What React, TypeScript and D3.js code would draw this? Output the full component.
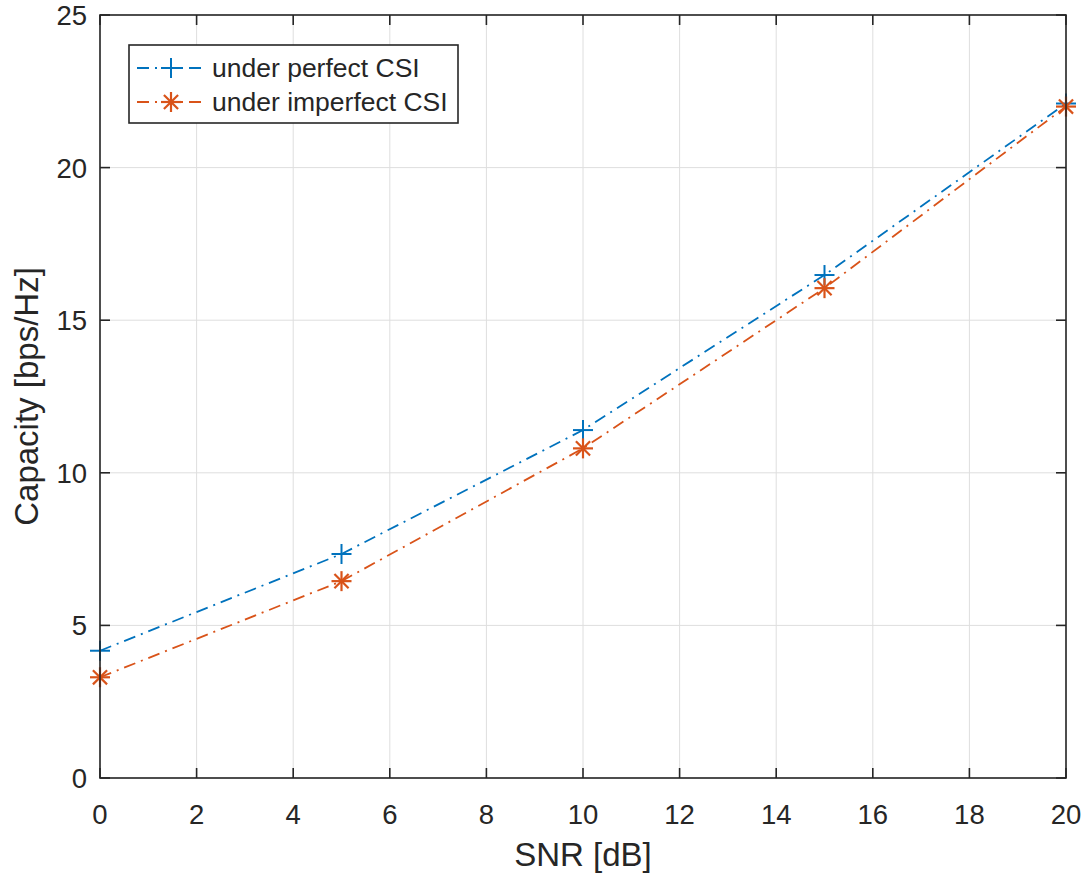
import React from "react";
import * as d3 from "d3";

const snr = [0, 5, 10, 15, 20];
const perfectCSI = [4.17, 7.34, 11.4, 16.48, 22.1];
const imperfectCSI = [3.3, 6.45, 10.8, 16.05, 22.0];
const xTicks = [0, 2, 4, 6, 8, 10, 12, 14, 16, 18, 20];
const yTicks = [0, 5, 10, 15, 20, 25];
const seriesNames = ["under perfect CSI", "under imperfect CSI"];
const colors = ["#0072BD", "#D95319"];

const W = 1088, H = 880;
const L = 100, R = 1066, T = 15, B = 778;
const FONT = "'Liberation Sans', Arial, Helvetica, sans-serif";
const AX = "#262626";
const DASH = "12,6,2,6";

function Plus({ x, y, c }: { x: number; y: number; c: string }) {
  const s = 10;
  return (
    <g stroke={c} strokeWidth={2}>
      <line x1={x - s} y1={y} x2={x + s} y2={y} />
      <line x1={x} y1={y - s} x2={x} y2={y + s} />
    </g>
  );
}

function Star({ x, y, c }: { x: number; y: number; c: string }) {
  const s = 10;
  const d = s * 0.7071;
  return (
    <g stroke={c} strokeWidth={2.2}>
      <line x1={x - s} y1={y} x2={x + s} y2={y} />
      <line x1={x} y1={y - s} x2={x} y2={y + s} />
      <line x1={x - d} y1={y - d} x2={x + d} y2={y + d} />
      <line x1={x - d} y1={y + d} x2={x + d} y2={y - d} />
    </g>
  );
}

export default function App() {
  const x = d3.scaleLinear().domain([0, 20]).range([L, R]);
  const y = d3.scaleLinear().domain([0, 25]).range([B, T]);
  const series = [perfectCSI, imperfectCSI];
  const line = d3
    .line<number>()
    .x((_, i) => x(snr[i]))
    .y((v) => y(v));

  const tick = 10;
  return (
    <div style={{ position: "absolute", left: 0, top: 0 }}>
      <svg width={W} height={H} style={{ display: "block", background: "#fff" }}>
        <rect x={0} y={0} width={W} height={H} fill="#fff" />
        {/* grid */}
        <g stroke="#dedede" strokeWidth={1}>
          {xTicks.map((t) => (
            <line key={"gx" + t} x1={x(t)} x2={x(t)} y1={T} y2={B} />
          ))}
          {yTicks.map((t) => (
            <line key={"gy" + t} x1={L} x2={R} y1={y(t)} y2={y(t)} />
          ))}
        </g>
        {/* series lines */}
        {series.map((s, k) => (
          <path
            key={"l" + k}
            d={line(s) || ""}
            fill="none"
            stroke={colors[k]}
            strokeWidth={1.8}
            strokeDasharray={DASH}
          />
        ))}
        {/* markers */}
        {perfectCSI.map((v, i) => (
          <Plus key={"p" + i} x={x(snr[i])} y={y(v)} c={colors[0]} />
        ))}
        {imperfectCSI.map((v, i) => (
          <Star key={"s" + i} x={x(snr[i])} y={y(v)} c={colors[1]} />
        ))}
        {/* box and ticks */}
        <g stroke={AX} strokeWidth={1.6}>
          <rect x={L} y={T} width={R - L} height={B - T} fill="none" />
          {xTicks.map((t) => (
            <g key={"tx" + t}>
              <line x1={x(t)} x2={x(t)} y1={B} y2={B - tick} />
              <line x1={x(t)} x2={x(t)} y1={T} y2={T + tick} />
            </g>
          ))}
          {yTicks.map((t) => (
            <g key={"ty" + t}>
              <line x1={L} x2={L + tick} y1={y(t)} y2={y(t)} />
              <line x1={R} x2={R - tick} y1={y(t)} y2={y(t)} />
            </g>
          ))}
        </g>
        {/* tick labels */}
        <g fontFamily={FONT} fontSize={27.5} fill={AX}>
          {xTicks.map((t) => (
            <text key={"lx" + t} x={x(t)} y={B + 46} textAnchor="middle">
              {t}
            </text>
          ))}
          {yTicks.map((t) => (
            <text key={"ly" + t} x={L - 13} y={y(t) + 10} textAnchor="end">
              {t}
            </text>
          ))}
        </g>
        {/* axis labels */}
        <text
          x={(L + R) / 2}
          y={866}
          textAnchor="middle"
          fontFamily={FONT}
          fontSize={33}
          fill={AX}
        >
          SNR [dB]
        </text>
        <text
          transform={`translate(38,${(T + B) / 2}) rotate(-90)`}
          textAnchor="middle"
          fontFamily={FONT}
          fontSize={33}
          fill={AX}
        >
          Capacity [bps/Hz]
        </text>
        {/* legend */}
        <g>
          <rect x={129} y={45} width={329} height={78} fill="#fff" stroke={AX} strokeWidth={1.6} />
          {seriesNames.map((name, k) => {
            const ry = 68 + k * 34;
            return (
              <g key={"lg" + k}>
                <line
                  x1={137}
                  x2={201}
                  y1={ry}
                  y2={ry}
                  stroke={colors[k]}
                  strokeWidth={1.8}
                  strokeDasharray={DASH}
                />
                {k === 0 ? <Plus x={171} y={ry} c={colors[0]} /> : <Star x={171} y={ry} c={colors[1]} />}
                <text x={212} y={ry + 9} fontFamily={FONT} fontSize={26.5} fill={AX}>
                  {name}
                </text>
              </g>
            );
          })}
        </g>
      </svg>
    </div>
  );
}
